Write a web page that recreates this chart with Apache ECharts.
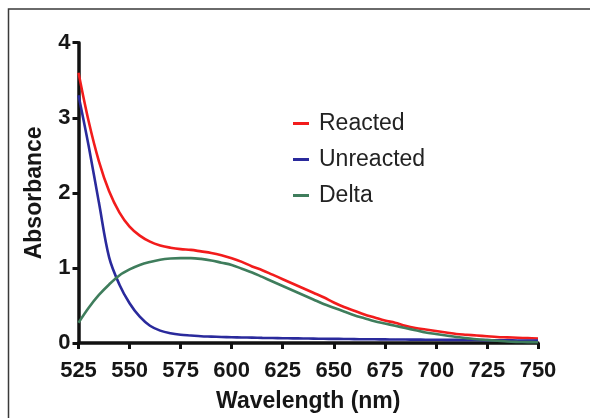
<!DOCTYPE html>
<html>
<head>
<meta charset="utf-8">
<script src="https://cdn.jsdelivr.net/npm/echarts@6/dist/echarts.min.js"></script>
<style>html,body{margin:0;padding:0;background:#fff;}#c{width:590px;height:418px;}</style>
</head>
<body>
<div id="c"></div>
<script>
const wavelengths = [525,530,535,540,545,550,555,560,565,570,575,580,585,590,595,600,605,610,615,620,625,630,635,640,645,650,655,660,665,670,675,680,685,690,695,700,705,710,715,720,725,730,735,740,745,750];
const reacted = [3.60,2.95,2.42,2.02,1.74,1.55,1.43,1.35,1.30,1.27,1.25,1.24,1.22,1.20,1.17,1.13,1.08,1.02,0.97,0.91,0.85,0.79,0.73,0.67,0.61,0.54,0.48,0.43,0.38,0.34,0.30,0.27,0.23,0.20,0.18,0.16,0.14,0.12,0.11,0.10,0.09,0.08,0.075,0.07,0.065,0.06];
const unreacted = [3.30,2.62,1.87,1.14,0.78,0.53,0.35,0.23,0.165,0.13,0.11,0.10,0.09,0.085,0.08,0.077,0.074,0.071,0.068,0.066,0.064,0.062,0.060,0.058,0.056,0.055,0.054,0.052,0.050,0.049,0.048,0.047,0.046,0.045,0.044,0.043,0.042,0.041,0.040,0.039,0.038,0.036,0.035,0.034,0.033,0.032];
const delta = [0.27,0.47,0.64,0.78,0.90,0.98,1.04,1.08,1.11,1.125,1.13,1.13,1.12,1.10,1.07,1.04,0.99,0.94,0.88,0.82,0.76,0.70,0.64,0.58,0.52,0.47,0.42,0.37,0.33,0.29,0.26,0.23,0.20,0.17,0.14,0.12,0.10,0.08,0.065,0.05,0.04,0.03,0.02,0.015,0.012,0.01];
const seriesNames = ['Reacted','Unreacted','Delta'];
const xTicks = [525,550,575,600,625,650,675,700,725,750];
const yTicks = [0,1,2,3,4];

const pairs = arr => wavelengths.map((w,i)=>[w,arr[i]]);
const chart = echarts.init(document.getElementById('c'), null, {renderer:'canvas'});
const colors = ['#f21c1c','#2a2a9c','#3f7d5c'];
const axisFont = {fontFamily:'Liberation Sans, Arial, sans-serif', fontWeight:'bold', fontSize:22, color:'#161616'};
const lineSeries = (name, arr, color) => ({
  name, type:'line', data:pairs(arr), showSymbol:false, smooth:0.35,
  lineStyle:{color, width:2.6}, itemStyle:{color}, z:3
});
chart.setOption({
  animation:false,
  backgroundColor:'#fff',
  grid:{left:78.5, right:52, top:42.7, bottom:69, containLabel:false},
  graphic:[{type:'rect', shape:{x:8.5,y:9,width:700,height:600}, style:{fill:'none', stroke:'#3a3a3a', lineWidth:1.5}, silent:true}],
  legend:{
    orient:'vertical', left:293, top:112, padding:0, itemWidth:16, itemHeight:3, itemGap:13, icon:'rect',
    data:seriesNames,
    textStyle:{fontFamily:'Liberation Sans, Arial, sans-serif', fontSize:23, color:'#222', lineHeight:22, padding:[0,0,0,5]}
  },
  xAxis:{
    type:'value', min:xTicks[0], max:xTicks[xTicks.length-1], interval:25,
    name:'Wavelength (nm)', nameLocation:'middle', nameGap:47,
    nameTextStyle:{fontFamily:'Liberation Sans, Arial, sans-serif', fontWeight:'bold', fontSize:23, color:'#161616'},
    axisLine:{show:true, lineStyle:{color:'#111', width:3.5}},
    axisTick:{show:true, length:6, lineStyle:{color:'#111', width:3}},
    axisLabel:Object.assign({margin:17}, axisFont),
    splitLine:{show:false}
  },
  yAxis:{
    type:'value', min:yTicks[0], max:yTicks[yTicks.length-1], interval:1,
    name:'Absorbance', nameLocation:'middle', nameGap:32, nameRotate:90,
    nameTextStyle:{fontFamily:'Liberation Sans, Arial, sans-serif', fontWeight:'bold', fontSize:23, color:'#161616'},
    axisLine:{show:true, lineStyle:{color:'#111', width:3.5}},
    axisTick:{show:true, length:6, lineStyle:{color:'#111', width:3}},
    axisLabel:Object.assign({margin:8}, axisFont),
    splitLine:{show:false}
  },
  series:[
    lineSeries(seriesNames[0], reacted, colors[0]),
    lineSeries(seriesNames[1], unreacted, colors[1]),
    lineSeries(seriesNames[2], delta, colors[2])
  ]
});
</script>
</body>
</html>
